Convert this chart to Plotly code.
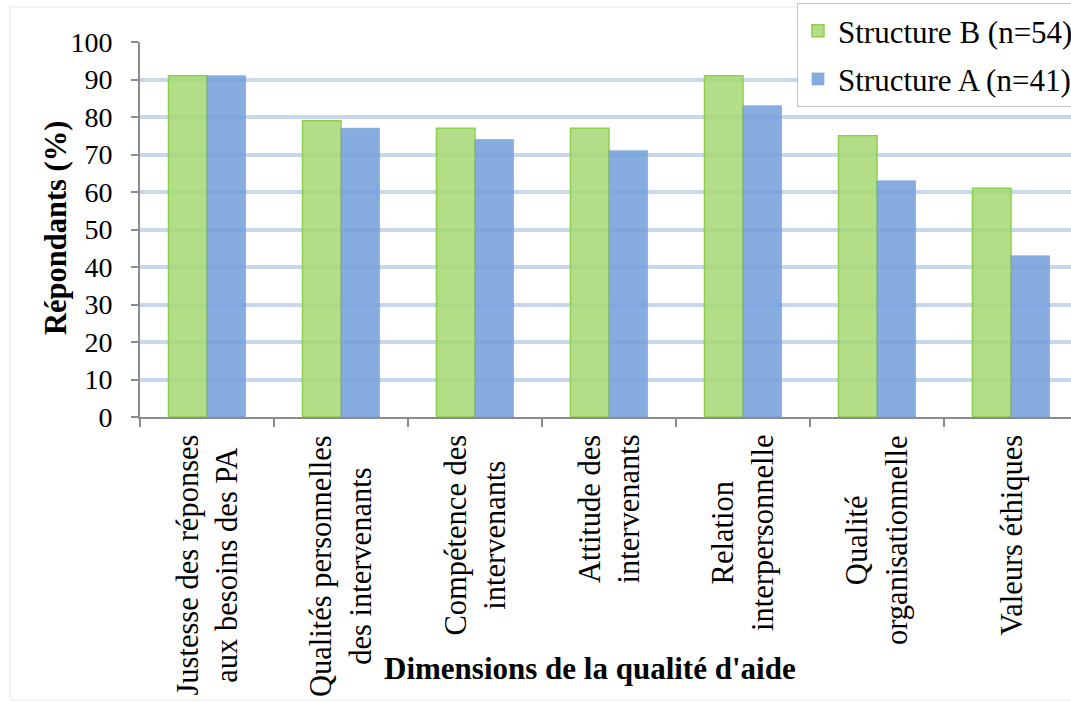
import plotly.graph_objects as go

categories = [
    "Justesse des réponses<br>aux besoins des PA",
    "Qualités personnelles<br>des intervenants",
    "Compétence des<br>intervenants",
    "Attitude des<br>intervenants",
    "Relation<br>interpersonnelle",
    "Qualité<br>organisationnelle",
    "Valeurs éthiques",
]
structure_b = [91, 79, 77, 77, 91, 75, 61]
structure_a = [91, 77, 74, 71, 83, 63, 43]
y_ticks = list(range(0, 101, 10))

FONT = "Liberation Serif, Times New Roman, serif"
idx = list(range(len(categories)))

fig = go.Figure()
fig.add_trace(go.Bar(
    x=idx, y=structure_b, name="Structure B (n=54)", legendgroup="b",
    marker=dict(color="rgba(166,216,114,0.85)",
                line=dict(color="#8ccf4f", width=1.5)),
))
fig.add_trace(go.Bar(
    x=idx, y=structure_a, name="Structure A (n=41)", legendgroup="a",
    marker=dict(color="rgba(114,159,219,0.85)",
                line=dict(color="rgba(114,159,219,0.6)", width=1)),
))

annotations = []
for i, c in enumerate(categories):
    annotations.append(dict(
        x=i, y=0, xref="x", yref="paper", text=c, showarrow=False,
        textangle=-90, xanchor="center", yanchor="top", align="center",
        yshift=-16, font=dict(family=FONT, size=30.5, color="black"),
    ))
annotations.append(dict(
    x=(590 - 140) / 931, y=-(668 - 417) / 375, xref="paper", yref="paper",
    text="<b>Dimensions de la qualité d'aide</b>", showarrow=False,
    xanchor="center", yanchor="middle",
    font=dict(family=FONT, size=31, color="black"),
))
annotations.append(dict(
    x=(56 - 140) / 931, y=(417 - 228) / 375, xref="paper", yref="paper",
    text="<b>Répondants (%)</b>", showarrow=False, textangle=-90,
    xanchor="center", yanchor="middle",
    font=dict(family=FONT, size=30.5, color="black"),
))

fig.update_layout(
    width=1071, height=702,
    margin=dict(l=140, r=0, t=42, b=285, autoexpand=False),
    paper_bgcolor="white", plot_bgcolor="white",
    barmode="group", bargap=0.425, bargroupgap=0,
    font=dict(family=FONT, color="black"),
    showlegend=True,
    legend=dict(
        x=(797 - 140) / 931, y=(417 - 3) / 375, xanchor="left", yanchor="top",
        bgcolor="white", bordercolor="#c0c0c0", borderwidth=1,
        font=dict(family=FONT, size=31, color="black"),
        traceorder="grouped", tracegroupgap=5, itemwidth=30,
    ),
    annotations=annotations,
    shapes=[dict(
        type="rect", xref="paper", yref="paper",
        x0=(10 - 140) / 931, x1=(1075 - 140) / 931,
        y0=(417 - 700) / 375, y1=(417 - 7) / 375,
        line=dict(color="#e4eaf3", width=1), layer="below",
    )],
)
fig.update_xaxes(
    type="linear", range=[-0.5, -0.5 + 931 / 134],
    tickmode="array", tickvals=[i - 0.5 for i in range(len(categories) + 1)],
    showticklabels=False, ticks="outside", ticklen=8, tickcolor="#8c8c8c",
    tickwidth=1.5,
    showgrid=False, zeroline=False, showline=True, linecolor="#8c8c8c",
    linewidth=2,
)
fig.update_yaxes(
    range=[0, 100], tickmode="array", tickvals=y_ticks,
    ticks="outside", ticklen=7, tickcolor="#8c8c8c", tickwidth=1.5,
    ticklabelstandoff=13,
    tickfont=dict(family=FONT, size=28, color="black"),
    showgrid=True, gridcolor="#c8d7ec", gridwidth=4,
    zeroline=False, showline=True, linecolor="#8c8c8c", linewidth=2,
)

fig.write_html("out.html")
